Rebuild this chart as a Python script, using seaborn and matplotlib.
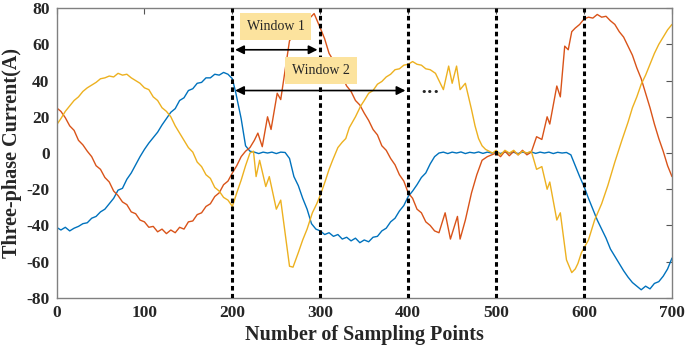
import numpy as np
import matplotlib
matplotlib.use("Agg")
import matplotlib.pyplot as plt
import seaborn as sns
import pandas as pd

# Style
sns.set_theme(style="white")
plt.rcParams['font.family'] = ['Liberation Serif', 'DejaVu Serif']
plt.rcParams['axes.unicode_minus'] = False

# --- data ---
red_x = [0, 5, 10, 15, 20, 25, 30, 35, 40, 45, 50, 55, 60, 65, 70, 75, 80, 85, 90, 95,
         100, 105, 110, 115, 120, 125, 130, 135, 140, 145, 150, 155, 160, 165, 170, 175,
         180, 185, 190, 195, 200, 205, 210, 215, 220, 225, 229, 234, 240, 244, 251, 255,
         265, 275, 285, 293, 300, 305, 310, 315, 320, 325, 330, 335, 340, 345, 350, 355,
         360, 365, 370, 375, 380, 385, 390, 395, 400, 405, 410, 415, 420, 425, 430, 435,
         442, 448, 456, 459, 465, 472, 478, 484, 490, 495, 500, 505, 510, 515, 520, 525,
         530, 535, 540, 546, 552, 558, 561, 569, 573, 578, 582, 586, 590, 595, 600, 605,
         610, 615, 620, 625, 630, 635, 640, 645, 650, 655, 660, 665, 670, 675, 680, 685,
         690, 695, 700]
red_y = [25, 23, 19.5, 15, 12.5, 7, 4.5, 1, -2, -7, -9, -13.5, -16, -21, -23.5, -27, -28.5,
         -32.5, -33.5, -37, -38, -41, -40.5, -43.5, -42, -44.5, -42.5, -44, -41, -42, -38,
         -37.5, -34, -33, -29.5, -28, -24, -22, -17.5, -15.5, -11, -7, -2, 1, 3, 7, 11, 3.5,
         20, 13, 33, 29.5, 62, 68, 73, 77, 69, 63, 55, 51, 45, 42, 37, 34, 29, 26.5, 22, 18,
         13, 10, 4, 1.5, -3, -6.5, -12, -15.5, -22, -25, -31, -33, -38, -40, -43, -44, -33,
         -47.5, -35, -47.5, -37, -22, -12, -4, -2, -1, 0, -2, 1, -1.5, 1, -1, 1.5, -1, 0.5,
         9, 7.5, 20, 16, 37, 31, 59, 57, 67, 69, 71, 74, 75, 74.5, 76.5, 75, 75.5, 73, 71,
         67, 64, 59, 54, 47, 41, 33, 25, 16, 8, 1, -7, -13]

yellow_x = [0, 5, 10, 15, 20, 25, 30, 35, 40, 45, 50, 55, 60, 65, 70, 75, 80, 85, 90, 95,
            100, 105, 110, 115, 120, 125, 130, 135, 140, 145, 150, 155, 160, 165, 170, 175,
            180, 185, 190, 195, 200, 205, 210, 215, 220, 224, 227, 231, 238, 242, 250, 255,
            265, 269, 275, 280, 285, 291, 296, 301, 306, 310, 314, 320, 325, 329, 333, 340,
            346, 350, 355, 360, 365, 370, 375, 380, 385, 390, 395, 400, 405, 410, 415, 420,
            425, 431, 440, 446, 450, 455, 459, 465, 472, 476, 480, 484, 488, 492, 496, 500,
            505, 510, 515, 520, 525, 530, 535, 540, 546, 552, 558, 561, 569, 573, 580, 586,
            590, 593, 597, 601, 605, 612, 620, 627, 635, 643, 650, 655, 660, 665, 670, 675,
            680, 685, 690, 695, 700]
yellow_y = [15.5, 19, 23, 26, 29, 31, 34, 36, 37.5, 39, 41, 41.5, 42.5, 42, 44, 43, 43.5,
            41.5, 40, 38.5, 36, 35, 31, 29, 25, 23, 20, 15, 11, 7, 3, 0.5, -5, -7.5, -12,
            -14, -19, -21, -24.5, -26, -29.5, -22, -15, -7, 0, 1, -13, -4, -18.5, -13, -31,
            -26, -62.5, -63, -55, -48, -42, -33, -28, -22, -15, -9, -4, 3, 6, 8, 14, 20, 26,
            29, 33, 34.5, 38, 39.5, 42, 43.5, 46, 46.5, 48.5, 49, 50.5, 49, 48.5, 46.5, 46,
            44, 35, 48, 38.5, 48, 35, 38.5, 24, 15, 8, 4, 2, 1, 0, 1.5, -1, 1.5, 0, 1.5, -1,
            1, 0, 1, -9, -7.5, -20, -16, -37, -33, -59, -66, -64, -61, -55, -51.5, -48, -37,
            -28, -18, -5, 7, 17, 25, 31, 38, 43, 49, 55, 60, 64, 68, 71]

blue_x = [0, 5, 10, 15, 20, 25, 30, 35, 40, 45, 50, 55, 60, 65, 70, 75, 80, 85, 90, 95,
          100, 105, 110, 115, 120, 125, 130, 135, 140, 145, 150, 155, 160, 165, 170, 175,
          180, 185, 190, 195, 200, 204, 210, 215, 220, 225, 230, 235, 240, 245, 250, 255,
          260, 265, 270, 275, 280, 285, 290, 295, 300, 305, 310, 315, 320, 325, 330, 335,
          340, 345, 350, 355, 360, 365, 370, 375, 380, 385, 390, 395, 400, 405, 410, 415,
          420, 425, 430, 435, 440, 445, 450, 455, 460, 465, 470, 475, 480, 485, 490, 495,
          500, 505, 510, 515, 520, 525, 530, 535, 540, 545, 550, 555, 560, 565, 570, 575,
          580, 585, 590, 595, 600, 605, 610, 615, 620, 625, 630, 635, 640, 645, 650, 655,
          660, 665, 670, 675, 680, 685, 690, 695, 700]
blue_y = [-41, -42.5, -41, -43, -41.5, -40.5, -39, -38.5, -36, -35, -32.5, -31, -28, -25,
          -20.5, -19.5, -14.5, -11, -6.5, -2, 2, 5.5, 8.5, 11.5, 15.5, 19, 22.5, 24.5, 29,
          30.5, 34.5, 35.5, 38.5, 39, 41.5, 41.5, 43.5, 43, 44.5, 43.5, 41, 33, 19, 4, 1,
          0.5, -0.3, 0.5, 0, 0.5, -0.3, 0.5, 0.3, -3, -13, -18, -25, -31, -39, -42, -43,
          -45, -44, -46, -45, -47.5, -46.5, -48.5, -47, -49.5, -48, -49, -46.5, -46, -43,
          -41.5, -38, -36, -32, -29, -24, -21, -17.5, -13.5, -11, -6, -2, 0, 0.5, -0.3, 0.5,
          0, 0.6, -0.3, 0.4, 0, 0.6, -0.2, 0.5, 0, 0.5, -0.3, 0.6, 0, 0.4, -0.3, 0.5, 0,
          0.6, -0.2, 0.5, 0, 0.5, -0.3, 0.4, 0, 0.3, -1, -7, -13, -18.5, -25, -31, -37, -42,
          -47, -53, -57, -61, -65, -68.5, -71.5, -73.5, -75.5, -73.5, -75, -72, -71, -68,
          -64, -58]

window_lines = [200, 300, 400, 500, 600]
phase_names = ["A", "B", "C"]
phase_colors = ["#0072BD", "#D95319", "#EDB120"]

df = pd.concat([
    pd.DataFrame({"x": blue_x, "y": blue_y, "phase": "A"}),
    pd.DataFrame({"x": red_x, "y": red_y, "phase": "B"}),
    pd.DataFrame({"x": yellow_x, "y": yellow_y, "phase": "C"}),
])

fig = plt.figure(figsize=(6.85, 3.53), dpi=100)
ax = fig.add_axes([0.0825, 0.156, 0.8985, 0.821])

sns.lineplot(data=df, x="x", y="y", hue="phase", hue_order=phase_names,
             palette=dict(zip(phase_names, phase_colors)), legend=False,
             linewidth=1.0, estimator=None, sort=False, ax=ax)

for xv in window_lines:
    ax.axvline(xv, color="black", linestyle=(0, (1.5, 1.1)), linewidth=2.2, zorder=3)

# window annotations
box = dict(boxstyle="square,pad=0.5", facecolor="#FCE39E", edgecolor="none")
ax.text(249, 70, "Window 1", ha="center", va="center", fontsize=10, bbox=box, zorder=5)
ax.annotate("", xy=(200, 57), xytext=(300, 57),
            arrowprops=dict(arrowstyle="<|-|>", color="black", lw=1.2, mutation_scale=13),
            zorder=5)
ax.text(300.5, 45.5, "Window 2", ha="center", va="center", fontsize=10, bbox=box, zorder=5)
ax.annotate("", xy=(200, 34.5), xytext=(400, 34.5),
            arrowprops=dict(arrowstyle="<|-|>", color="black", lw=1.2, mutation_scale=13),
            zorder=5)
ax.text(425, 33.5, "\u2022\u2022\u2022", ha="center", va="center", fontsize=8,
        family=["DejaVu Sans"], zorder=5)

ax.set_xlim(0, 700)
ax.set_ylim(-80, 80)
ax.set_xticks(np.arange(0, 701, 100))
ax.set_yticks(np.arange(-80, 81, 20))
ax.tick_params(direction="in", length=4, width=0.8, color="#555555",
               top=True, right=True, labelsize=12.5, pad=5)
for lab in ax.get_xticklabels() + ax.get_yticklabels():
    lab.set_fontweight("bold")
for sp in ax.spines.values():
    sp.set_color("#808080")
    sp.set_linewidth(1.0)

ax.set_xlabel("Number of Sampling Points", fontsize=14.5, fontweight="bold", labelpad=3)
ax.set_ylabel("Three-phase Current(A)", fontsize=14.5, fontweight="bold", labelpad=3)

fig.savefig("out.png", dpi=100)
